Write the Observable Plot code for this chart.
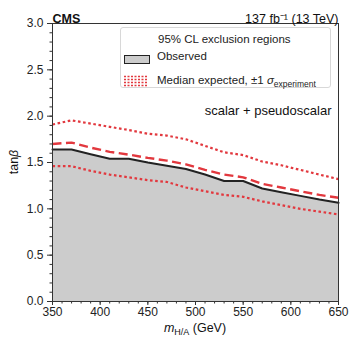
<!DOCTYPE html>
<html><head><meta charset="utf-8">
<script src="https://cdn.jsdelivr.net/npm/d3@7"></script>
<script src="https://cdn.jsdelivr.net/npm/@observablehq/plot@0.6"></script>
<style>
body{margin:0;background:#fff;font-family:"Liberation Sans",Arial,sans-serif;}
#wrap{position:relative;width:350px;height:339px;}
.legend{position:absolute;left:120px;top:27px;width:211px;height:61px;border:1px solid #d8d8d8;border-radius:3px;background:#fff;font-size:11.5px;color:#222;box-sizing:border-box}
.legend .t{position:absolute;left:37px;top:5px;white-space:nowrap}
.legend .l{position:absolute;left:36px;white-space:nowrap}
.patch{position:absolute;left:3px;width:24px;}
</style></head><body><div id="wrap"></div>
<script>
const masses   = [350, 370, 390, 410, 430, 450, 470, 490, 510, 530, 550, 570, 590, 610, 630, 650];
const observed = [1.64, 1.64, 1.59, 1.54, 1.54, 1.50, 1.465, 1.43, 1.37, 1.30, 1.30, 1.22, 1.18, 1.14, 1.10, 1.065];
const expected = [1.70, 1.715, 1.66, 1.615, 1.585, 1.55, 1.52, 1.48, 1.42, 1.37, 1.34, 1.27, 1.23, 1.19, 1.15, 1.12];
const plus1    = [1.91, 1.955, 1.92, 1.885, 1.85, 1.81, 1.79, 1.75, 1.68, 1.61, 1.58, 1.51, 1.47, 1.42, 1.37, 1.32];
const minus1   = [1.46, 1.46, 1.41, 1.37, 1.34, 1.31, 1.29, 1.23, 1.19, 1.15, 1.13, 1.08, 1.04, 1.00, 0.97, 0.94];
const xTicks = [350, 400, 450, 500, 550, 600, 650];
const yTicks = [0, 0.5, 1.0, 1.5, 2.0, 2.5, 3.0];
const xMinor = d3.range(350, 651, 10);
const yMinor = d3.range(0, 31, 1).map(d => d / 10);

const rows = masses.map((m, i) => ({m, obs: observed[i], exp: expected[i], up: plus1[i], dn: minus1[i]}));
const red = "#e2383e";
const font = '"Liberation Sans", Arial, sans-serif';

const chart = Plot.plot({
  width: 350, height: 339,
  marginLeft: 52, marginRight: 12, marginTop: 23, marginBottom: 38,
  x: {domain: [350, 650]},
  y: {domain: [0, 3]},
  style: {fontFamily: font, fontSize: "12px", color: "#222", background: "#fff"},
  marks: [
    Plot.areaY(rows, {x: "m", y1: 0, y2: "obs", fill: "#cccccc"}),
    Plot.line(rows, {x: "m", y: "dn", stroke: red, strokeWidth: 2.2, strokeDasharray: "2.6,2.6", strokeLinecap: "butt"}),
    Plot.line(rows, {x: "m", y: "up", stroke: red, strokeWidth: 2.2, strokeDasharray: "2.6,2.6", strokeLinecap: "butt"}),
    Plot.line(rows, {x: "m", y: "exp", stroke: red, strokeWidth: 2.4, strokeDasharray: "9,4.5", strokeLinecap: "butt"}),
    Plot.line(rows, {x: "m", y: "obs", stroke: "#222", strokeWidth: 2}),
    Plot.axisX({ticks: xMinor, tickSize: 2.5, text: null, label: null, stroke: "#333"}),
    Plot.axisX({ticks: xTicks, tickSize: 4, tickPadding: 2, tickFormat: d => String(d), label: null, stroke: "#333", fontSize: 12}),
    Plot.axisY({ticks: yMinor, tickSize: 2.5, text: null, label: null, stroke: "#333"}),
    Plot.axisY({ticks: yTicks, tickSize: 5, tickFormat: d => d.toFixed(1), label: null, stroke: "#333", fontSize: 12}),
    Plot.frame({stroke: "#333", strokeWidth: 1}),
    Plot.text(["CMS"], {frameAnchor: "top-left", textAnchor: "start", dy: -9, dx: 0, fontWeight: "bold", fontSize: 12.5, fill: "#111"}),
    Plot.text(["137 fb\u207B\u00B9 (13 TeV)"], {frameAnchor: "top-right", textAnchor: "end", dy: -9, fontSize: 12.5, fill: "#111"}),
    Plot.text(["scalar + pseudoscalar"], {frameAnchor: "top-right", textAnchor: "end", dx: -7, dy: 82, fontSize: 13, fill: "#111"})
  ]
});

const svg = d3.select(chart);
// x axis label with subscript
const xl = svg.append("text").attr("x", 195).attr("y", 332).attr("text-anchor", "middle")
  .attr("font-size", 12.5).attr("fill", "#111").attr("font-family", font);
xl.append("tspan").attr("font-style", "italic").text("m");
xl.append("tspan").attr("font-size", 9).attr("dy", 2.5).text("H/A");
xl.append("tspan").attr("dy", -2.5).text(" (GeV)");
// y axis label
const yl = svg.append("text").attr("transform", "translate(18,162) rotate(-90)").attr("text-anchor", "middle")
  .attr("font-size", 12.5).attr("fill", "#111").attr("font-family", font);
yl.append("tspan").text("tan");
yl.append("tspan").attr("font-style", "italic").text("\u03B2");

const wrap = document.getElementById("wrap");
wrap.appendChild(chart);

const lg = document.createElement("div");
lg.className = "legend";
lg.innerHTML = `
  <div class="t">95% CL exclusion regions</div>
  <div class="patch" style="top:27px;height:7px;background:#cccccc;border:1px solid #222;"></div>
  <div class="l" style="top:22px">Observed</div>
  <svg class="patch" style="top:47px;height:12px" width="24" height="12">
    ${[1.5, 4.5, 7.5, 10.5].map(y => `<line x1="0" x2="24" y1="${y}" y2="${y}" stroke="${red}" stroke-width="1.5" stroke-dasharray="2,1.5"/>`).join("")}
  </svg>
  <div class="l" style="top:46px">Median expected, \u00B11 <i>\u03C3</i><sub style="font-size:8.5px">experiment</sub></div>
`;
wrap.appendChild(lg);
</script>
</body></html>
